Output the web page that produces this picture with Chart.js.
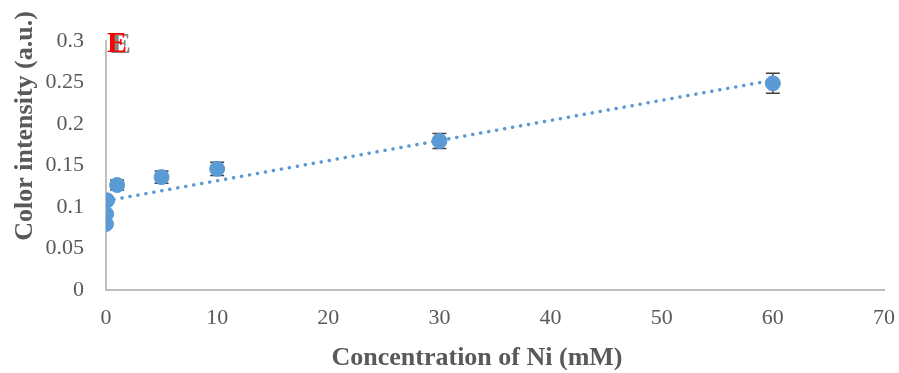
<!DOCTYPE html>
<html>
<head>
<meta charset="utf-8">
<script src="https://cdn.jsdelivr.net/npm/chart.js@4.4.1/dist/chart.umd.min.js"></script>
<style>
  html, body { margin: 0; padding: 0; background: #fff; }
  #wrap { width: 899px; height: 373px; }
</style>
</head>
<body>
<div id="wrap"><canvas id="myChart"></canvas></div>
<script>
// data
const concNi = [0, 0.01, 0.1, 1, 5, 10, 30, 60];
const intensity = [0.0795, 0.0916, 0.108, 0.1265, 0.136, 0.146, 0.1795, 0.249];
const errors = [0, 0, 0, 0.006, 0.0075, 0.008, 0.009, 0.012];
const xTicks = [0, 10, 20, 30, 40, 50, 60, 70];
const yTicks = [0, 0.05, 0.1, 0.15, 0.2, 0.25, 0.3];
const xTitle = "Concentration of Ni (mM)";
const yTitle = "Color intensity (a.u.)";

// linear trendline (least squares, like the spreadsheet does)
function fit(xs, ys) {
  const n = xs.length;
  const mx = xs.reduce((a, b) => a + b, 0) / n;
  const my = ys.reduce((a, b) => a + b, 0) / n;
  let sxy = 0, sxx = 0;
  for (let i = 0; i < n; i++) {
    sxy += (xs[i] - mx) * (ys[i] - my);
    sxx += (xs[i] - mx) * (xs[i] - mx);
  }
  const slope = sxy / sxx;
  return { slope: slope, icpt: my - slope * mx };
}
const lf = fit(concNi, intensity);
const xMin = Math.min(...concNi), xMax = Math.max(...concNi);
const trend = [
  { x: xMin, y: lf.icpt + lf.slope * xMin },
  { x: xMax, y: lf.icpt + lf.slope * xMax }
];

const points = concNi.map((x, i) => ({ x: x, y: intensity[i] }));

// error bars, drawn under the markers
const errorBars = {
  id: "errorBars",
  beforeDatasetsDraw(chart) {
    const { ctx, scales: { x, y } } = chart;
    ctx.save();
    ctx.strokeStyle = "#404040";
    ctx.lineWidth = 1.5;
    points.forEach((p, i) => {
      if (!errors[i]) return;
      const px = x.getPixelForValue(p.x);
      const top = y.getPixelForValue(p.y + errors[i]);
      const bot = y.getPixelForValue(p.y - errors[i]);
      ctx.beginPath();
      ctx.moveTo(px, top); ctx.lineTo(px, bot);
      ctx.moveTo(px - 7, top); ctx.lineTo(px + 7, top);
      ctx.moveTo(px - 7, bot); ctx.lineTo(px + 7, bot);
      ctx.stroke();
    });
    ctx.restore();
  }
};

// axis titles and panel letter
const labels = {
  id: "labels",
  afterDraw(chart) {
    const ctx = chart.ctx;
    ctx.save();
    ctx.fillStyle = "#595959";
    ctx.font = "bold 26px 'Liberation Serif'";
    ctx.textAlign = "center";
    ctx.textBaseline = "middle";
    ctx.fillText(xTitle, 477, 358);
    ctx.translate(25, 126);
    ctx.rotate(-Math.PI / 2);
    ctx.fillText(yTitle, 0, 0);
    ctx.restore();

    ctx.save();
    ctx.font = "bold 30px 'Liberation Serif'";
    ctx.textBaseline = "alphabetic";
    ctx.fillStyle = "rgba(110,110,110,0.85)";
    ctx.fillText("E", 111, 53);
    ctx.fillStyle = "#ff0000";
    ctx.fillText("E", 107, 52);
    ctx.restore();
  }
};

const ctx = document.getElementById("myChart");
const myChart = new Chart(ctx, {
  type: "scatter",
  data: {
    datasets: [
      {
        type: "line",
        data: trend,
        borderColor: "#5B9BD5",
        borderWidth: 3.5,
        borderDash: [0.1, 8],
        borderCapStyle: "round",
        pointRadius: 0,
        fill: false,
        order: 2
      },
      {
        data: points,
        backgroundColor: "#5B9BD5",
        borderColor: "#5B9BD5",
        pointRadius: 7.5,
        pointHoverRadius: 7.5,
        order: 1
      }
    ]
  },
  plugins: [errorBars, labels],
  options: {
    responsive: true,
    maintainAspectRatio: false,
    animation: false,
    layout: { padding: { top: 41, right: 15, left: 0, bottom: 0 } },
    plugins: {
      legend: { display: false },
      tooltip: { enabled: false }
    },
    scales: {
      x: {
        type: "linear",
        min: 0,
        max: 70,
        afterBuildTicks: (ax) => { ax.ticks = xTicks.map(v => ({ value: v })); },
        afterFit: (ax) => { ax.height = 83; ax.paddingLeft = 0; ax.paddingRight = 0; },
        grid: { display: false, drawTicks: false },
        border: { color: "#BFBFBF", width: 2 },
        ticks: {
          padding: 15,
          color: "#595959",
          font: { family: "'Liberation Serif'", size: 22 }
        }
      },
      y: {
        min: 0,
        max: 0.3,
        afterBuildTicks: (ax) => { ax.ticks = yTicks.map(v => ({ value: v })); },
        afterFit: (ax) => { ax.width = 106; ax.paddingTop = 0; ax.paddingBottom = 0; },
        grid: { display: false, drawTicks: false },
        border: { color: "#BFBFBF", width: 2 },
        ticks: {
          padding: 22,
          color: "#595959",
          font: { family: "'Liberation Serif'", size: 22 },
          callback: (v) => String(+v.toFixed(2))
        }
      }
    }
  }
});
</script>
</body>
</html>
